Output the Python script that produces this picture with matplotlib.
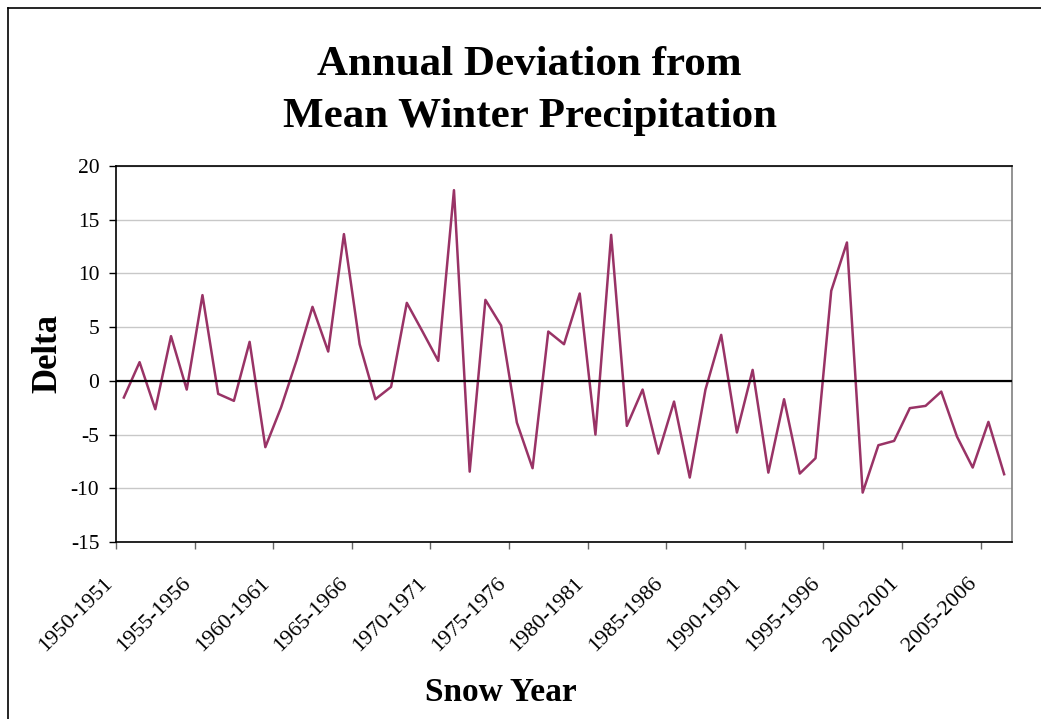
import numpy as np
import matplotlib
matplotlib.use("Agg")
import matplotlib.pyplot as plt
import matplotlib.transforms as mtransforms
from matplotlib.lines import Line2D

plt.rcParams["font.family"] = ["Liberation Serif", "DejaVu Serif"]
plt.rcParams["axes.unicode_minus"] = False

# snow years 1950-1951 .. 2006-2007
start_years = list(range(1950, 2007))
seasons = [f"{y}-{y + 1}" for y in start_years]

# deviation from mean winter precipitation
delta = [
    -1.55, 1.74, -2.64, 4.16, -0.81, 7.98, -1.21, -1.86, 3.63, -6.17,
    -2.48, 1.96, 6.89, 2.73, 13.66, 3.41, -1.71, -0.56, 7.26, 4.59,
    1.86, 17.75, -8.45, 7.54, 5.15, -3.88, -8.13, 4.59, 3.41, 8.13,
    -5.0, 13.59, -4.19, -0.81, -6.77, -1.93, -9.0, -0.81, 4.28, -4.81,
    1.02, -8.54, -1.71, -8.63, -7.2, 8.38, 12.88, -10.4, -5.99, -5.59,
    -2.54, -2.33, -1.0, -5.19, -8.07, -3.82, -8.69,
]

y_ticks = [-15, -10, -5, 0, 5, 10, 15, 20]

W, H = 1041, 719
fig = plt.figure(figsize=(W / 100, H / 100), dpi=100)
ax = fig.add_axes([116 / W, 1 - 542 / H, (1012 - 116) / W, (542 - 166) / H])

x = np.arange(len(delta))
ax.plot(x, delta, color="#993366", lw=1.8, zorder=3)
ax.axhline(0, color="black", lw=1.6, zorder=4)

ax.set_xlim(-0.5, len(delta) - 0.5)
ax.set_ylim(-15, 20)
ax.set_yticks(y_ticks)
ax.set_yticklabels([str(v) for v in y_ticks])
ax.yaxis.grid(True, color="#c8c8c8", lw=1)
ax.set_axisbelow(True)

tick_pos = np.arange(0, len(delta), 5) - 0.5
ax.set_xticks(tick_pos)
ax.set_xticklabels([seasons[i] for i in range(0, len(delta), 5)],
                   rotation=45, ha="right", rotation_mode="anchor")

ax.tick_params(axis="both", direction="out", length=5, width=1, labelsize=15.5)
ax.tick_params(axis="x", labelsize=16, pad=16, color="#666666")
ax.tick_params(axis="y", pad=7)

# nudge the slanted labels so their ends sit just left of the ticks
shift = mtransforms.ScaledTranslation(-13 / 100, -3 / 100, fig.dpi_scale_trans)
for lab in ax.get_xticklabels():
    lab.set_transform(lab.get_transform() + shift)

for side in ["left", "bottom", "top"]:
    ax.spines[side].set_color("black")
    ax.spines[side].set_linewidth(1.2)
ax.spines["right"].set_color("#808080")
ax.spines["right"].set_linewidth(1.2)

# two-line title
fig.text(529 / W, 1 - 75 / H, "Annual Deviation from", ha="center", va="baseline",
         fontsize=31, fontweight="bold")
fig.text(530 / W, 1 - 127 / H, "Mean Winter Precipitation", ha="center", va="baseline",
         fontsize=31, fontweight="bold")

fig.text(48 / W, 1 - 354 / H, "Delta", rotation=90, ha="center", va="center",
         fontsize=25, fontweight="bold")
fig.text(501 / W, 1 - 701 / H, "Snow Year", ha="center", va="baseline",
         fontsize=24, fontweight="bold")

# outer chart frame (right and bottom edges fall outside the picture)
fig.add_artist(Line2D([7.5 / W, 7.5 / W], [0, 1 - 8 / H], transform=fig.transFigure,
                      color="black", lw=1.2))
fig.add_artist(Line2D([7.5 / W, 1], [1 - 8 / H, 1 - 8 / H], transform=fig.transFigure,
                      color="black", lw=1.2))

fig.savefig("out.png", dpi=100)
